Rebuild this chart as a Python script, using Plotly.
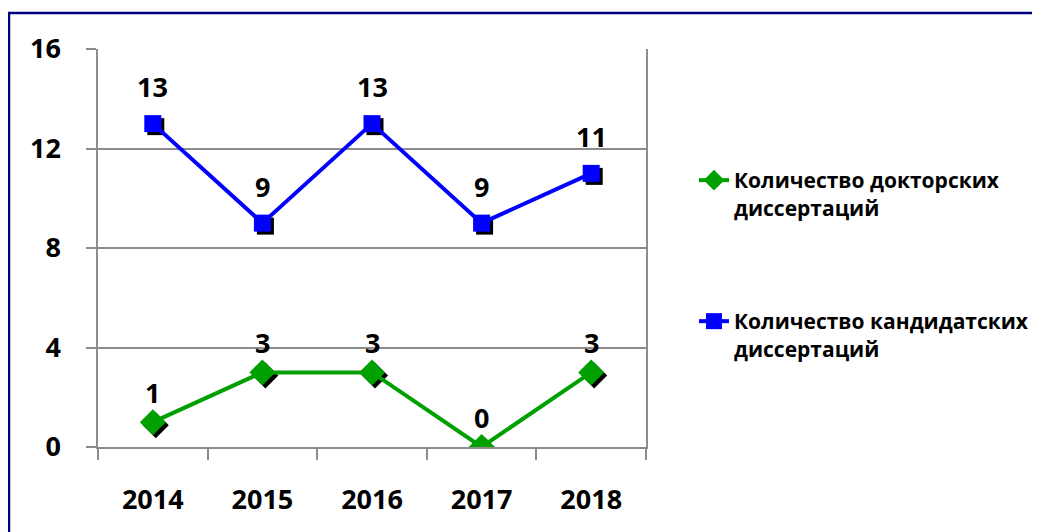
import plotly.graph_objects as go

years = ["2014", "2015", "2016", "2017", "2018"]
doctoral = [1, 3, 3, 0, 3]
candidate = [13, 9, 13, 9, 11]
name_doc = "Количество докторских<br>диссертаций"
name_cand = "Количество кандидатских<br>диссертаций"
y_ticks = [0, 4, 8, 12, 16]

GREEN = "#00A000"
BLUE = "#0000FF"
FONT = "Open Sans"
# page body has an 8px margin; figure coordinates are screen minus 8
W, H = 1032, 524
L, T = 90, 41
PR, PB = 638, 439
R, B = W - PR, H - PB
pw, ph = PR - L, PB - T

dx = 3 / (pw / 5)
dy = 3 / (ph / 16)

fig = go.Figure()

fig.add_trace(go.Scatter(x=years, y=doctoral, mode="markers", xaxis="x2", yaxis="y2",
                         marker=dict(symbol="diamond", size=20, color="black"),
                         showlegend=False, hoverinfo="skip"))
fig.add_trace(go.Scatter(x=years, y=candidate, mode="markers", xaxis="x2", yaxis="y2",
                         marker=dict(symbol="square", size=17, color="black"),
                         showlegend=False, hoverinfo="skip"))

fig.add_trace(go.Scatter(x=years, y=doctoral, mode="lines+markers", name=name_doc,
                         xaxis="x3", yaxis="y3", legend="legend",
                         line=dict(color=GREEN, width=4),
                         marker=dict(symbol="diamond", size=20, color=GREEN)))
fig.add_trace(go.Scatter(x=years, y=candidate, mode="lines+markers", name=name_cand,
                         xaxis="x3", yaxis="y3", legend="legend2",
                         line=dict(color=BLUE, width=4),
                         marker=dict(symbol="square", size=17, color=BLUE)))

lab_font = dict(family=FONT, size=27, color="black", weight="bold")
annotations = []
for i, v in enumerate(doctoral):
    annotations.append(dict(x=i, y=v, xref="x", yref="y", text=str(v), showarrow=False,
                            yshift=30, font=lab_font))
for i, v in enumerate(candidate):
    annotations.append(dict(x=i, y=v, xref="x", yref="y", text=str(v), showarrow=False,
                            yshift=37, font=lab_font))

axis_font = dict(family=FONT, size=27, color="black", weight="bold")
grid = "#8c8c8c"
leg_font = dict(family=FONT, size=21, color="black", weight="bold")

fig.update_layout(
    width=W, height=H,
    margin=dict(l=L, r=R, t=T, b=B, autoexpand=False),
    paper_bgcolor="white", plot_bgcolor="white",
    xaxis=dict(type="category", categoryorder="array", categoryarray=years,
               range=[-0.5, 4.5], tickson="boundaries", ticks="outside", ticklen=11,
               tickcolor=grid, tickwidth=1.5, showline=True, linecolor=grid, linewidth=1.5,
               showgrid=False, tickfont=axis_font, ticklabelstandoff=28, fixedrange=True),
    yaxis=dict(range=[0, 16], tickvals=y_ticks, ticks="outside", ticklen=10, tickcolor=grid,
               tickwidth=1.5, showline=True, linecolor=grid, linewidth=1.5, mirror=True,
               showgrid=True, gridcolor=grid, gridwidth=1.5, zeroline=False,
               tickfont=axis_font, ticklabelstandoff=20, fixedrange=True),
    xaxis2=dict(type="category", categoryorder="array", categoryarray=years,
                overlaying="x", range=[-0.5 - dx, 4.5 - dx], visible=False),
    yaxis2=dict(overlaying="y", range=[0 + dy, 16 + dy], visible=False),
    xaxis3=dict(type="category", categoryorder="array", categoryarray=years,
                overlaying="x", range=[-0.5, 4.5], visible=False),
    yaxis3=dict(overlaying="y", range=[0, 16], visible=False),
    legend=dict(x=(686 - L) / pw, y=(PB - 152) / ph, xanchor="left", yanchor="top",
                font=leg_font, bgcolor="rgba(0,0,0,0)", valign="top"),
    legend2=dict(x=(686 - L) / pw, y=(PB - 293) / ph, xanchor="left", yanchor="top",
                 font=leg_font, bgcolor="rgba(0,0,0,0)", valign="top"),
    annotations=annotations,
    shapes=[dict(type="rect", xref="paper", yref="paper",
                 x0=(1 - L) / pw, x1=(W + 40 - L) / pw,
                 y0=(PB - (H + 40)) / ph, y1=(PB - 5) / ph,
                 line=dict(color="#000080", width=2.5), fillcolor="rgba(0,0,0,0)", layer="below")],
)

fig.write_html("out.html")
